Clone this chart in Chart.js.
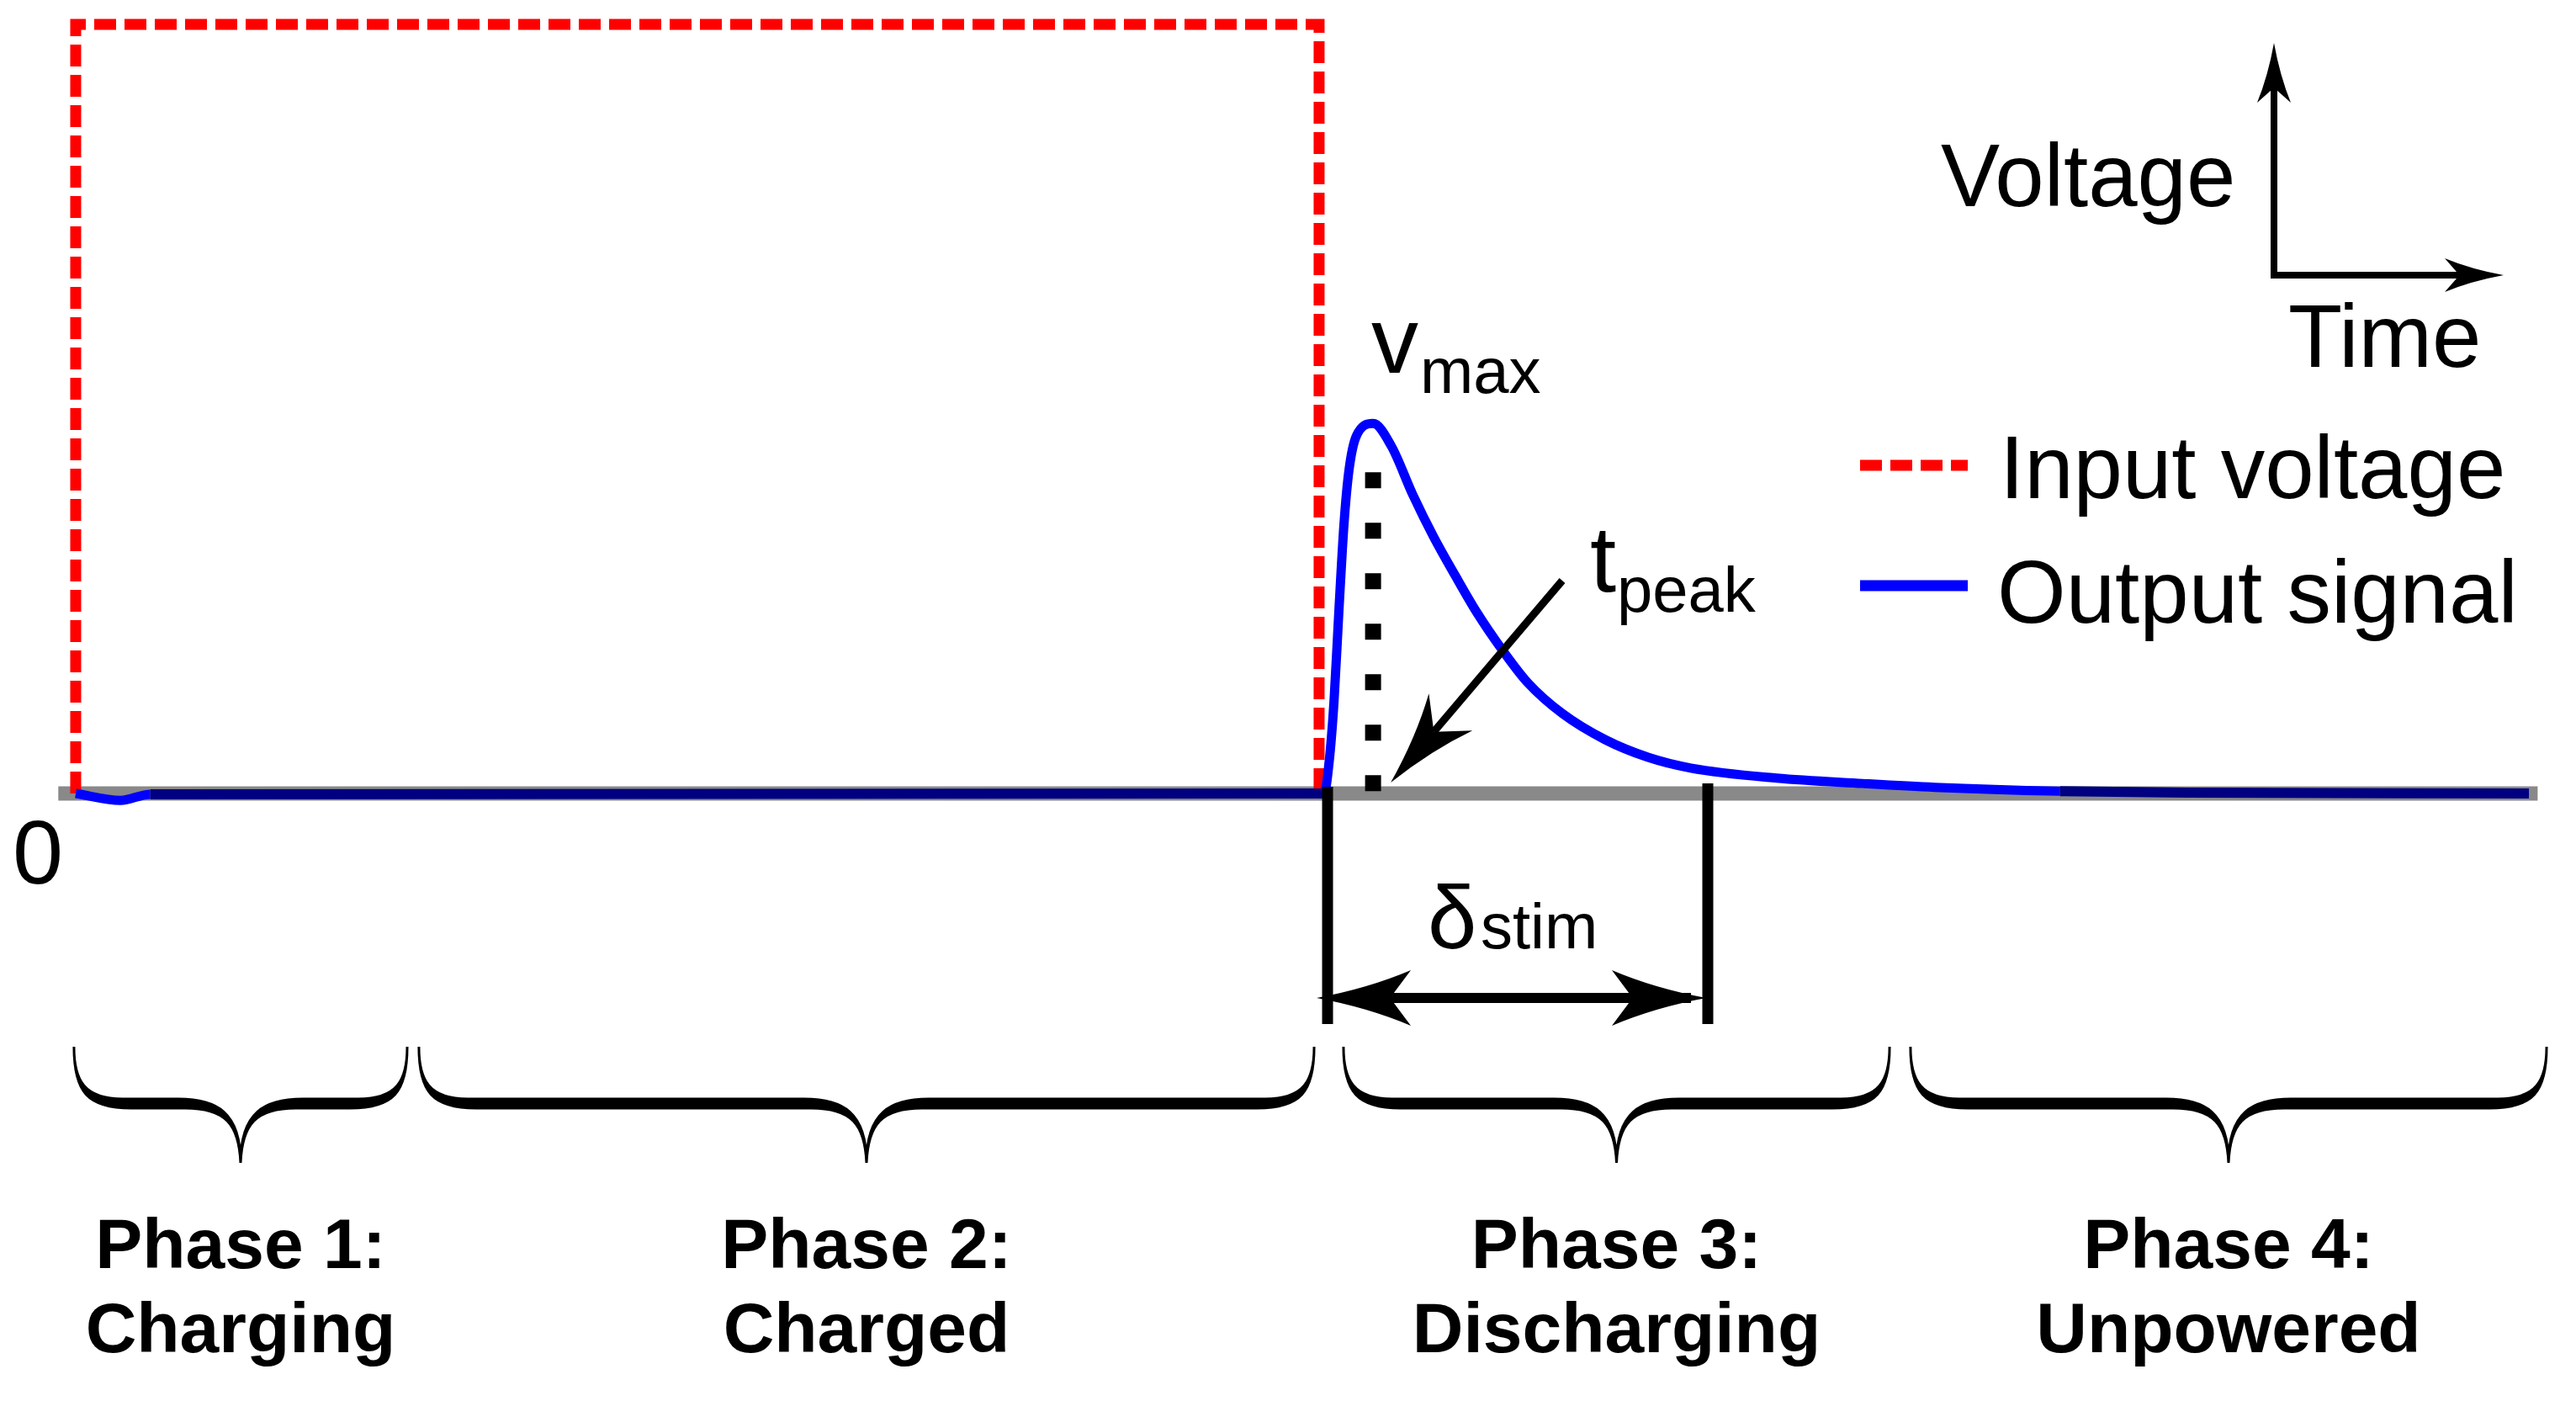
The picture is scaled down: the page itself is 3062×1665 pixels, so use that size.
<!DOCTYPE html>
<html>
<head>
<meta charset="utf-8">
<title>Phases</title>
<script src="https://cdn.jsdelivr.net/npm/chart.js@4.4.0/dist/chart.umd.min.js"></script>
<style>
  html, body { margin: 0; padding: 0; background: #fff; overflow: hidden; }
  #wrap { width: 3062px; height: 1665px; position: relative; }
</style>
</head>
<body>
<div id="wrap"><canvas id="phaseChart"></canvas></div>
<script>
// input voltage (square pulse)
const inputTime = [0, 0, 50, 50];
const inputVolt = [0, 1, 1, 0];

// output signal
const outputTime = [0, 1.8, 3.0, 50.2, 50.4, 50.6, 50.8, 51.0, 51.2, 51.5, 52.17, 52.9,
  53.76, 54.6, 55.48, 56.33, 57.38, 58.39, 59.78, 61.5, 63.23, 64.95, 68.4, 71.85, 74.76, 79.8, 84.9, 98.65];
const outputVolt = [0, -0.009, -0.001, 0, 0.04, 0.12, 0.24, 0.35, 0.42, 0.465, 0.481, 0.452,
  0.389, 0.334, 0.283, 0.236, 0.186, 0.144, 0.104, 0.07, 0.047, 0.033, 0.02, 0.013, 0.008, 0.003, 0.001, 0];

// stimulation window (delta_stim)
const stimStart = 50.34;
const stimEnd = 65.63;

// phases along the time axis
const phaseNames = ["Phase 1:", "Phase 2:", "Phase 3:", "Phase 4:"];
const phaseStates = ["Charging", "Charged", "Discharging", "Unpowered"];
const phaseStart = [-0.07, 13.8, 50.98, 73.78];
const phaseEnd = [13.33, 49.8, 72.94, 99.36];

const seriesLabels = ["Input voltage", "Output signal"];

const toXY = (xs, ys) => xs.map((x, i) => ({ x: x, y: ys[i] }));

// peak of the output signal
let peakIdx = 0;
outputVolt.forEach((v, i) => { if (v > outputVolt[peakIdx]) peakIdx = i; });
const tPeak = outputTime[peakIdx];
const vPeak = outputVolt[peakIdx];

const FONT = "'Liberation Sans', Arial, Helvetica, sans-serif";
const RED = "#ff0000";
const BLUE = "#0000ff";
const NAVY = "#000080";

function arrowHead(ctx, tipX, tipY, dx, dy, len, halfW, notch) {
  const bx = tipX - dx * len, by = tipY - dy * len;
  const nx = -dy, ny = dx;
  const mx = tipX - dx * len * notch, my = tipY - dy * len * notch;
  ctx.beginPath();
  ctx.moveTo(tipX, tipY);
  ctx.quadraticCurveTo(tipX - dx * len * 0.55 + nx * halfW * 0.35, tipY - dy * len * 0.55 + ny * halfW * 0.35,
    bx + nx * halfW, by + ny * halfW);
  ctx.lineTo(mx, my);
  ctx.lineTo(bx - nx * halfW, by - ny * halfW);
  ctx.quadraticCurveTo(tipX - dx * len * 0.55 - nx * halfW * 0.35, tipY - dy * len * 0.55 - ny * halfW * 0.35,
    tipX, tipY);
  ctx.closePath();
  ctx.fill();
}

function arrow(ctx, x1, y1, x2, y2, len, halfW, notch, lw) {
  const L = Math.hypot(x2 - x1, y2 - y1);
  const dx = (x2 - x1) / L, dy = (y2 - y1) / L;
  ctx.lineWidth = lw;
  ctx.beginPath();
  ctx.moveTo(x1, y1);
  ctx.lineTo(x2 - dx * len * notch, y2 - dy * len * notch);
  ctx.stroke();
  arrowHead(ctx, x2, y2, dx, dy, len, halfW, notch);
}

function brace(ctx, x0, x1, yt, ym, yb, th) {
  const xc = (x0 + x1) / 2;
  const r = 58, c = 74;
  ctx.beginPath();
  ctx.moveTo(x0, yt);
  ctx.bezierCurveTo(x0, ym - 22, x0 + 12, ym, x0 + r, ym);
  ctx.lineTo(xc - c, ym);
  ctx.bezierCurveTo(xc - 28, ym, xc, ym + 16, xc, yb);
  ctx.bezierCurveTo(xc, ym + 16, xc + 28, ym, xc + c, ym);
  ctx.lineTo(x1 - r, ym);
  ctx.bezierCurveTo(x1 - 12, ym, x1, ym - 22, x1, yt);
  ctx.bezierCurveTo(x1, ym - 8, x1 - 16, ym + th, x1 - r - 10, ym + th);
  ctx.lineTo(xc + c - 8, ym + th);
  ctx.bezierCurveTo(xc + 18, ym + th, xc + 2, ym + 30, xc, yb);
  ctx.bezierCurveTo(xc - 2, ym + 30, xc - 18, ym + th, xc - c + 8, ym + th);
  ctx.lineTo(x0 + r + 10, ym + th);
  ctx.bezierCurveTo(x0 + 16, ym + th, x0, ym - 8, x0, yt);
  ctx.closePath();
  ctx.fill();
  ctx.lineWidth = 3;
  ctx.stroke();
}

const annotations = {
  id: "annotations",
  afterDatasetsDraw(chart) {
    const ctx = chart.ctx;
    const xs = chart.scales.x, ys = chart.scales.y;
    const base = ys.getPixelForValue(0);
    ctx.save();
    ctx.fillStyle = "#000";
    ctx.strokeStyle = "#000";
    ctx.lineCap = "butt";

    // zero label
    ctx.font = "108px " + FONT;
    ctx.textAlign = "center";
    ctx.textBaseline = "alphabetic";
    ctx.fillText("0", 45, 1050);

    // v_max
    ctx.textAlign = "left";
    ctx.font = "112px " + FONT;
    ctx.fillText("v", 1630, 443);
    ctx.font = "76px " + FONT;
    ctx.fillText("max", 1688, 467);

    // t_peak
    ctx.font = "112px " + FONT;
    ctx.fillText("t", 1890, 703);
    ctx.font = "76px " + FONT;
    ctx.fillText("peak", 1922, 727);
    arrow(ctx, 1857, 690, xs.getPixelForValue(tPeak) + 21, base - 13, 110, 34, 0.72, 9);

    // delta_stim
    const sx0 = xs.getPixelForValue(stimStart), sx1 = xs.getPixelForValue(stimEnd);
    ctx.fillRect(sx0 - 6.5, base - 8, 13, 1217 - base + 8);
    ctx.fillRect(sx1 - 6.5, base - 12, 13, 1217 - base + 12);
    ctx.font = "105px " + FONT;
    ctx.fillText("\u03b4", 1697, 1127);
    ctx.font = "76px " + FONT;
    ctx.fillText("stim", 1760, 1127);
    arrow(ctx, sx1 - 20, 1186, sx0 - 13, 1186, 112, 33, 0.78, 12);
    arrow(ctx, sx0 + 20, 1186, sx1 - 2, 1186, 112, 33, 0.78, 12);

    // voltage / time axes icon
    ctx.lineWidth = 8;
    ctx.lineJoin = "miter";
    ctx.beginPath();
    ctx.moveTo(2703, 100);
    ctx.lineTo(2703, 327);
    ctx.lineTo(2925, 327);
    ctx.stroke();
    arrowHead(ctx, 2703, 51, 0, -1, 71, 20, 0.75);
    arrowHead(ctx, 2976, 327, 1, 0, 70, 20, 0.75);
    ctx.font = "105px " + FONT;
    ctx.fillText("Voltage", 2307, 245);
    ctx.fillText("Time", 2720, 436);

    // legend
    const ds = chart.data.datasets;
    ctx.lineWidth = 13;
    ctx.strokeStyle = ds[1].borderColor;
    ctx.setLineDash([26, 10]);
    ctx.beginPath(); ctx.moveTo(2211, 553); ctx.lineTo(2339, 553); ctx.stroke();
    ctx.setLineDash([]);
    ctx.strokeStyle = BLUE;
    ctx.beginPath(); ctx.moveTo(2211, 696); ctx.lineTo(2339, 696); ctx.stroke();
    ctx.fillText(seriesLabels[0], 2377, 592);
    ctx.fillText(seriesLabels[1], 2374, 740);

    // phase braces and labels
    ctx.strokeStyle = "#000";
    ctx.textAlign = "center";
    for (let i = 0; i < phaseNames.length; i++) {
      const a = xs.getPixelForValue(phaseStart[i]);
      const b = xs.getPixelForValue(phaseEnd[i]);
      brace(ctx, a, b, 1244, 1306, 1382, 11);
      ctx.font = "bold 84px " + FONT;
      ctx.fillText(phaseNames[i], (a + b) / 2, 1507);
      ctx.fillText(phaseStates[i], (a + b) / 2, 1607);
    }
    ctx.restore();
  }
};

const ctx = document.getElementById("phaseChart").getContext("2d");

const phaseChart = new Chart(ctx, {
  type: "line",
  data: {
    datasets: [
      {
        label: seriesLabels[1],
        data: toXY(outputTime, outputVolt),
        borderColor: BLUE,
        borderWidth: 11,
        cubicInterpolationMode: "monotone",
        pointRadius: 0,
        clip: false,
        order: 0,
        segment: {
          borderColor: s => (Math.abs(s.p0.parsed.y) < 0.0045 && Math.abs(s.p1.parsed.y) < 0.0045) ? NAVY : BLUE,
          borderWidth: s => (Math.abs(s.p0.parsed.y) < 0.0045 && Math.abs(s.p1.parsed.y) < 0.0045) ? 12 : 11
        }
      },
      {
        label: seriesLabels[0],
        data: toXY(inputTime, inputVolt),
        borderColor: RED,
        borderWidth: 13,
        borderDash: [26, 10],
        borderJoinStyle: "miter",
        tension: 0,
        pointRadius: 0,
        clip: false,
        order: 2
      },
      {
        label: "t_peak marker",
        data: [{ x: tPeak, y: 0.003 }, { x: tPeak, y: vPeak * 0.87 }],
        borderColor: "#000",
        borderWidth: 19,
        borderDash: [19, 41],
        borderCapStyle: "butt",
        pointRadius: 0,
        clip: false,
        order: 1
      },
      {
        label: "baseline",
        data: [{ x: -0.7, y: 0 }, { x: 99, y: 0 }],
        borderColor: "#898989",
        borderWidth: 17,
        pointRadius: 0,
        clip: false,
        order: 3
      }
    ]
  },
  options: {
    responsive: true,
    maintainAspectRatio: false,
    devicePixelRatio: 1,
    animation: false,
    layout: {
      padding: { left: 69.3, right: 45.6, top: 10.72, bottom: 676.3 }
    },
    scales: {
      x: { type: "linear", min: -0.7, max: 99, display: false },
      y: { type: "linear", min: -0.05, max: 1.02, display: false }
    },
    plugins: {
      legend: { display: false },
      tooltip: { enabled: false }
    }
  },
  plugins: [annotations]
});
</script>
</body>
</html>
